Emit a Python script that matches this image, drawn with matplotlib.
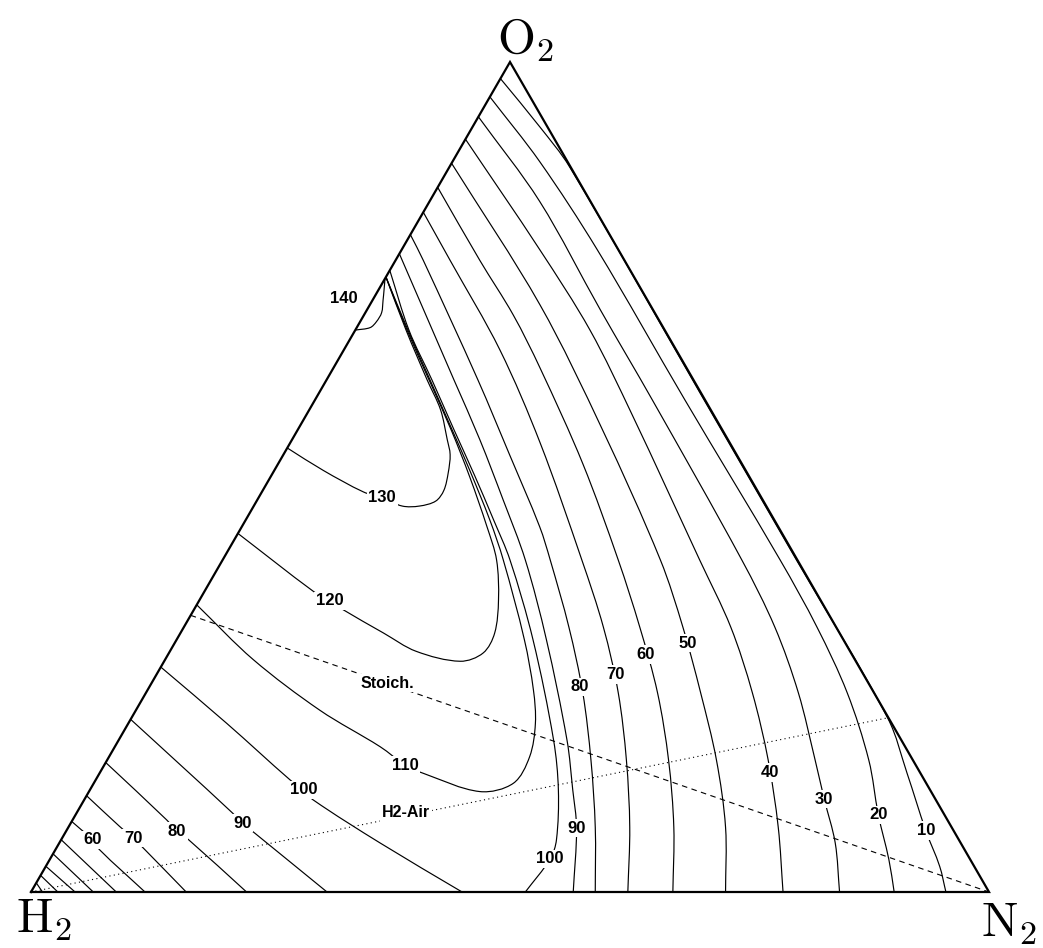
import numpy as np
import matplotlib
matplotlib.use("Agg")
import matplotlib.pyplot as plt
from matplotlib.path import Path
from matplotlib.patches import PathPatch

plt.rcParams['mathtext.fontset'] = 'cm'

# ---------------- data: iso-lines as (H2, O2) mole fractions; N2 = 1 - H2 - O2 -------------
# lean branches (from the H2-O2 edge down to the H2-N2 base)
lean10_h2 = [0.020, 0.008, 0.001, 0.001, 0.001, 0.001, 0.014, 0.029, 0.036, 0.045]
lean10_o2 = [0.980, 0.922, 0.874, 0.600, 0.400, 0.209, 0.143, 0.074, 0.031, 0.0]
lean20_h2 = [0.042, 0.029, 0.022, 0.021, 0.018, 0.020, 0.028, 0.046, 0.069, 0.085, 0.099]
lean20_o2 = [0.958, 0.880, 0.774, 0.593, 0.400, 0.319, 0.240, 0.159, 0.093, 0.039, 0.0]
lean30_h2 = [0.066, 0.053, 0.055, 0.055, 0.058, 0.064, 0.079, 0.102, 0.116, 0.131, 0.156]
lean30_o2 = [0.934, 0.832, 0.701, 0.593, 0.400, 0.319, 0.240, 0.159, 0.112, 0.059, 0.0]
lean40_h2 = [0.093, 0.082, 0.078, 0.085, 0.102, 0.110, 0.127, 0.151, 0.181, 0.215]
lean40_o2 = [0.907, 0.774, 0.677, 0.575, 0.400, 0.319, 0.240, 0.159, 0.078, 0.0]
lean50_h2 = [0.122, 0.115, 0.125, 0.143, 0.160, 0.181, 0.205, 0.236, 0.275]
lean50_o2 = [0.878, 0.707, 0.557, 0.400, 0.319, 0.240, 0.159, 0.078, 0.0]
lean60_h2 = [0.151, 0.151, 0.149, 0.153, 0.166, 0.187, 0.205, 0.226, 0.255, 0.290, 0.330]
lean60_o2 = [0.849, 0.761, 0.695, 0.631, 0.516, 0.400, 0.319, 0.240, 0.159, 0.078, 0.0]
lean70_h2 = [0.181, 0.182, 0.184, 0.198, 0.225, 0.243, 0.267, 0.299, 0.336, 0.377]
lean70_o2 = [0.819, 0.761, 0.653, 0.541, 0.400, 0.319, 0.240, 0.159, 0.078, 0.0]
lean80_h2 = [0.208, 0.210, 0.225, 0.237, 0.249, 0.258, 0.279, 0.304, 0.336, 0.372, 0.411]
lean80_o2 = [0.792, 0.761, 0.617, 0.527, 0.440, 0.400, 0.319, 0.240, 0.159, 0.078, 0.0]
lean90_h2 = [0.231, 0.241, 0.250, 0.259, 0.271, 0.284, 0.310, 0.349, 0.373, 0.392, 0.434]
lean90_o2 = [0.769, 0.689, 0.617, 0.545, 0.472, 0.400, 0.304, 0.183, 0.123, 0.077, 0.0]
lean100_h2 = [0.251, 0.267, 0.273, 0.280, 0.286, 0.293, 0.300, 0.324, 0.363, 0.388, 0.420, 0.438, 0.484]
lean100_o2 = [0.749, 0.677, 0.617, 0.557, 0.502, 0.448, 0.400, 0.304, 0.183, 0.123, 0.063, 0.040, 0.0]

# rich branches (near the H2 corner)
rich100_h2 = [0.729, 0.694, 0.662, 0.654, 0.650, 0.606, 0.550]
rich100_o2 = [0.271, 0.203, 0.135, 0.123, 0.111, 0.059, 0.0]
rich90_h2 = [0.792, 0.767, 0.742, 0.738, 0.731, 0.691]
rich90_o2 = [0.208, 0.152, 0.095, 0.083, 0.071, 0.0]
rich80_h2 = [0.844, 0.815, 0.811, 0.804, 0.775]
rich80_o2 = [0.156, 0.087, 0.073, 0.063, 0.0]
rich70_h2 = [0.884, 0.868, 0.861, 0.857, 0.838]
rich70_o2 = [0.116, 0.079, 0.065, 0.055, 0.0]
rich60_h2 = [0.915, 0.910, 0.904, 0.903, 0.881]
rich60_o2 = [0.085, 0.075, 0.063, 0.051, 0.0]
rich50_h2 = [0.937, 0.911]
rich50_o2 = [0.063, 0.0]
rich40_h2 = [0.954, 0.935]
rich40_o2 = [0.046, 0.0]
rich30_h2 = [0.969, 0.954]
rich30_o2 = [0.031, 0.0]
rich20_h2 = [0.980, 0.972]
rich20_o2 = [0.020, 0.0]
rich10_h2 = [0.989, 0.988]
rich10_o2 = [0.011, 0.0]

# closed loops against the H2-O2 edge
loop110_h2 = [0.259, 0.268, 0.275, 0.282, 0.288, 0.297, 0.307, 0.333, 0.354, 0.372, 0.398,
              0.431, 0.471, 0.519, 0.533, 0.548, 0.589, 0.628, 0.654]
loop110_o2 = [0.741, 0.677, 0.617, 0.557, 0.508, 0.448, 0.400, 0.304, 0.243, 0.203, 0.163,
              0.131, 0.121, 0.143, 0.153, 0.175, 0.219, 0.280, 0.346]
loop120_h2 = [0.259, 0.269, 0.276, 0.283, 0.292, 0.304, 0.314, 0.336, 0.360, 0.384, 0.413,
              0.453, 0.476, 0.505, 0.513, 0.524, 0.568]
loop120_o2 = [0.741, 0.677, 0.617, 0.557, 0.500, 0.440, 0.400, 0.352, 0.312, 0.288, 0.278,
              0.290, 0.312, 0.341, 0.351, 0.362, 0.432]
loop130_h2 = [0.259, 0.270, 0.278, 0.282, 0.293, 0.299, 0.312, 0.327, 0.342, 0.362, 0.380,
              0.396, 0.412, 0.441, 0.465]
loop130_o2 = [0.741, 0.677, 0.617, 0.581, 0.545, 0.527, 0.505, 0.484, 0.471, 0.465, 0.465,
              0.475, 0.482, 0.508, 0.535]
loop140_h2 = [0.261, 0.269, 0.276, 0.285, 0.296, 0.306, 0.323]
loop140_o2 = [0.739, 0.725, 0.713, 0.698, 0.687, 0.680, 0.677]

# contour labels (value, H2, O2)
label_values = [10, 20, 30, 40, 50, 60, 70, 80, 90, 100, 110, 120, 130, 140,
                60, 70, 80, 90, 100]
label_h2 = [0.029, 0.069, 0.116, 0.157, 0.164, 0.215, 0.259, 0.304, 0.392, 0.438,
            0.533, 0.513, 0.396, 0.316, 0.904, 0.861, 0.811, 0.738, 0.654]
label_o2 = [0.074, 0.093, 0.112, 0.144, 0.300, 0.286, 0.262, 0.247, 0.077, 0.040,
            0.153, 0.351, 0.475, 0.715, 0.063, 0.065, 0.073, 0.083, 0.123]

# reference mixture lines
stoich_h2 = [2 / 3, 0.0]
stoich_o2 = [1 / 3, 0.0]
air_h2 = [1.0, 0.0]
air_o2 = [0.0, 0.21]
ref_names = ["Stoich.", "H2-Air"]
ref_label_h2 = [0.5025, 0.561]
ref_label_o2 = [0.2518, 0.0952]

vertex_names = [r"$\mathrm{H}_2$", r"$\mathrm{N}_2$", r"$\mathrm{O}_2$"]

branches = [
    (lean10_h2, lean10_o2), (lean20_h2, lean20_o2), (lean30_h2, lean30_o2),
    (lean40_h2, lean40_o2), (lean50_h2, lean50_o2), (lean60_h2, lean60_o2),
    (lean70_h2, lean70_o2), (lean80_h2, lean80_o2), (lean90_h2, lean90_o2),
    (lean100_h2, lean100_o2),
    (rich100_h2, rich100_o2), (rich90_h2, rich90_o2), (rich80_h2, rich80_o2),
    (rich70_h2, rich70_o2), (rich60_h2, rich60_o2), (rich50_h2, rich50_o2),
    (rich40_h2, rich40_o2), (rich30_h2, rich30_o2), (rich20_h2, rich20_o2),
    (rich10_h2, rich10_o2),
    (loop110_h2, loop110_o2), (loop120_h2, loop120_o2), (loop130_h2, loop130_o2),
    (loop140_h2, loop140_o2),
]

S3 = np.sqrt(3) / 2


def to_xy(h2, o2):
    h2 = np.asarray(h2, float)
    o2 = np.asarray(o2, float)
    return 1 - h2 - o2 / 2, o2 * S3


def smooth_path(xs, ys):
    P = np.column_stack([xs, ys])
    n = len(P)
    if n < 3:
        return Path(P)
    d = np.linalg.norm(np.diff(P, axis=0), axis=1)
    m = np.zeros_like(P)
    for i in range(n):
        if i == 0:
            m[i] = (P[1] - P[0]) / d[0]
        elif i == n - 1:
            m[i] = (P[-1] - P[-2]) / d[-1]
        else:
            m[i] = (P[i + 1] - P[i - 1]) / (d[i - 1] + d[i])
    verts = [P[0]]
    codes = [Path.MOVETO]
    for i in range(n - 1):
        verts += [P[i] + m[i] * d[i] / 3, P[i + 1] - m[i + 1] * d[i] / 3, P[i + 1]]
        codes += [Path.CURVE4] * 3
    return Path(verts, codes)


W, H = 1043, 948
fig = plt.figure(figsize=(W / 100, H / 100), dpi=100)
ax = fig.add_axes([31 / W, (H - 892) / H, 958 / W, 830 / H])
ax.set_xlim(0, 1)
ax.set_ylim(0, S3)
ax.axis('off')

# contour lines
for h2, o2 in branches:
    x, y = to_xy(h2, o2)
    ax.add_patch(PathPatch(smooth_path(x, y), fill=False, ec='black', lw=0.85,
                           clip_on=False, zorder=2))

# reference lines
x, y = to_xy(stoich_h2, stoich_o2)
ax.plot(x, y, color='black', lw=0.8, ls=(0, (5, 4)), clip_on=False, zorder=2)
x, y = to_xy(air_h2, air_o2)
ax.plot(x, y, color='black', lw=0.8, ls=(0, (1, 3)), clip_on=False, zorder=2)

# triangle frame
tx, ty = to_xy([1, 0, 0, 1], [0, 0, 1, 0])
ax.plot(tx, ty, color='black', lw=1.6, clip_on=False, zorder=4,
        solid_joinstyle='miter')

font = dict(family=['Liberation Sans', 'DejaVu Sans'], fontweight='bold', fontsize=12)
bbox = dict(fc='white', ec='none', pad=1.2)
for v, h2, o2 in zip(label_values, label_h2, label_o2):
    x, y = to_xy(h2, o2)
    ax.text(x, y, str(v), ha='center', va='center', bbox=bbox, zorder=5,
            clip_on=False, **font)
for name, h2, o2 in zip(ref_names, ref_label_h2, ref_label_o2):
    x, y = to_xy(h2, o2)
    ax.text(x, y, name, ha='center', va='center', bbox=bbox, zorder=5,
            clip_on=False, **dict(font, fontsize=11.5))

# vertex labels
fig.text(16 / W, 1 - 933 / H, vertex_names[0], ha='left', va='baseline', fontsize=35)
fig.text(981 / W, 1 - 937 / H, vertex_names[1], ha='left', va='baseline', fontsize=35)
fig.text(497 / W, 1 - 54 / H, vertex_names[2], ha='left', va='baseline', fontsize=35)

fig.savefig("out.png", dpi=100)
